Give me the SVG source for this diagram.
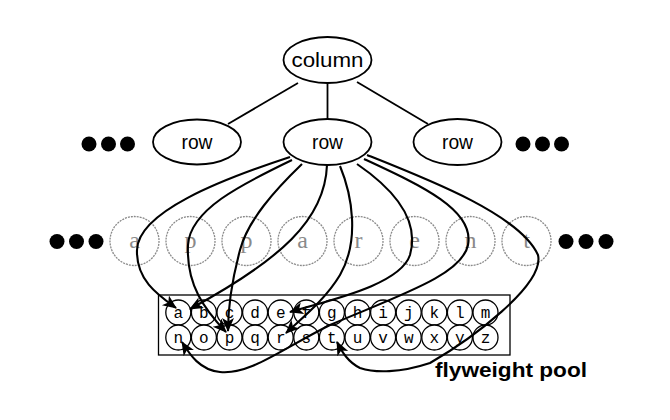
<svg xmlns="http://www.w3.org/2000/svg" width="670" height="420" viewBox="0 0 670 420">
<style>
.node{fill:#fff;stroke:#000;stroke-width:1.8}
.lbl{font-family:"Liberation Sans",Arial,sans-serif;font-size:20px;text-anchor:middle;fill:#000}
.dot{fill:#000}
.ghost{fill:none;stroke:#8a8a8a;stroke-width:1.3;stroke-dasharray:2 1}
.gl{font-family:"Liberation Serif","Times New Roman",serif;font-size:24px;text-anchor:middle;fill:#8a8a8a}
.pc{fill:#fff;stroke:#000;stroke-width:1.3}
.pl{font-family:"Liberation Mono","Courier New",monospace;font-size:16px;text-anchor:middle;fill:#000}
.edge{fill:none;stroke:#000;stroke-width:1.8}
.ref{fill:none;stroke:#000;stroke-width:2.1}
</style>
<defs>
<marker id="arr" markerUnits="userSpaceOnUse" markerWidth="16" markerHeight="14" refX="13" refY="6" orient="auto">
<path d="M0,0 L14,6 L0,12 L3.5,6 z" fill="#000"/>
</marker>
</defs>

<g id="ellipsis-left-top"><circle class="dot" cx="89" cy="144" r="7.5"/><circle class="dot" cx="108.5" cy="144" r="7.5"/><circle class="dot" cx="127.5" cy="144" r="7.5"/></g>
<g id="ellipsis-right-top"><circle class="dot" cx="523" cy="144" r="7.5"/><circle class="dot" cx="542.5" cy="144" r="7.5"/><circle class="dot" cx="561.5" cy="144" r="7.5"/></g>

<g id="tree-edges">
<line class="edge" x1="298" y1="83" x2="228" y2="124"/>
<line class="edge" x1="327.5" y1="83" x2="327.5" y2="119"/>
<line class="edge" x1="357" y1="82" x2="428" y2="124"/>
</g>

<g id="column"><ellipse class="node" cx="327.5" cy="60" rx="44" ry="23"/><text class="lbl" x="327.5" y="67" textLength="72" lengthAdjust="spacingAndGlyphs">column</text></g>
<g id="row-left"><ellipse class="node" cx="197" cy="142" rx="44" ry="22.5"/><text class="lbl" x="197" y="149" textLength="31" lengthAdjust="spacingAndGlyphs">row</text></g>
<g id="row-mid"><ellipse class="node" cx="327.5" cy="142" rx="44" ry="23"/><text class="lbl" x="327.5" y="149" textLength="31" lengthAdjust="spacingAndGlyphs">row</text></g>
<g id="row-right"><ellipse class="node" cx="457.5" cy="142" rx="44" ry="23"/><text class="lbl" x="457.5" y="149" textLength="31" lengthAdjust="spacingAndGlyphs">row</text></g>

<g id="ellipsis-left-mid"><circle class="dot" cx="57" cy="241.5" r="7.5"/><circle class="dot" cx="76.5" cy="241.5" r="7.5"/><circle class="dot" cx="96" cy="241.5" r="7.5"/></g>
<g id="ellipsis-right-mid"><circle class="dot" cx="566" cy="241.5" r="7.5"/><circle class="dot" cx="586" cy="241.5" r="7.5"/><circle class="dot" cx="606" cy="241.5" r="7.5"/></g>

<g id="word">
<g id="g-a1"><circle class="ghost" cx="134.5" cy="241" r="24.5"/><text class="gl" x="134.5" y="248">a</text></g>
<g id="g-p1"><circle class="ghost" cx="190.5" cy="241" r="24.5"/><text class="gl" x="190.5" y="248">p</text></g>
<g id="g-p2"><circle class="ghost" cx="246.5" cy="241" r="24.5"/><text class="gl" x="246.5" y="248">p</text></g>
<g id="g-a2"><circle class="ghost" cx="302.5" cy="241" r="24.5"/><text class="gl" x="302.5" y="248">a</text></g>
<g id="g-r"><circle class="ghost" cx="358.5" cy="241" r="24.5"/><text class="gl" x="358.5" y="248">r</text></g>
<g id="g-e"><circle class="ghost" cx="414.5" cy="241" r="24.5"/><text class="gl" x="414.5" y="248">e</text></g>
<g id="g-n"><circle class="ghost" cx="470.5" cy="241" r="24.5"/><text class="gl" x="470.5" y="248">n</text></g>
<g id="g-t"><circle class="ghost" cx="526.5" cy="241" r="24.5"/><text class="gl" x="526.5" y="248">t</text></g>
</g>

<g id="pool">
<rect x="158.5" y="295" width="351.5" height="60" fill="#fff" stroke="#000" stroke-width="1.3"/>
<g id="pool-row1">
<circle class="pc" cx="178.3" cy="312.5" r="12.5"/><text class="pl" x="178.3" y="317.5">a</text>
<circle class="pc" cx="203.9" cy="312.5" r="12.5"/><text class="pl" x="203.9" y="317.5">b</text>
<circle class="pc" cx="229.5" cy="312.5" r="12.5"/><text class="pl" x="229.5" y="317.5">c</text>
<circle class="pc" cx="255.1" cy="312.5" r="12.5"/><text class="pl" x="255.1" y="317.5">d</text>
<circle class="pc" cx="280.7" cy="312.5" r="12.5"/><text class="pl" x="280.7" y="317.5">e</text>
<circle class="pc" cx="306.3" cy="312.5" r="12.5"/><text class="pl" x="306.3" y="317.5">f</text>
<circle class="pc" cx="331.9" cy="312.5" r="12.5"/><text class="pl" x="331.9" y="317.5">g</text>
<circle class="pc" cx="357.5" cy="312.5" r="12.5"/><text class="pl" x="357.5" y="317.5">h</text>
<circle class="pc" cx="383.1" cy="312.5" r="12.5"/><text class="pl" x="383.1" y="317.5">i</text>
<circle class="pc" cx="408.7" cy="312.5" r="12.5"/><text class="pl" x="408.7" y="317.5">j</text>
<circle class="pc" cx="434.3" cy="312.5" r="12.5"/><text class="pl" x="434.3" y="317.5">k</text>
<circle class="pc" cx="459.9" cy="312.5" r="12.5"/><text class="pl" x="459.9" y="317.5">l</text>
<circle class="pc" cx="485.5" cy="312.5" r="12.5"/><text class="pl" x="485.5" y="317.5">m</text>
</g>
<g id="pool-row2">
<circle class="pc" cx="178.3" cy="337.5" r="12.5"/><text class="pl" x="178.3" y="342.5">n</text>
<circle class="pc" cx="203.9" cy="337.5" r="12.5"/><text class="pl" x="203.9" y="342.5">o</text>
<circle class="pc" cx="229.5" cy="337.5" r="12.5"/><text class="pl" x="229.5" y="342.5">p</text>
<circle class="pc" cx="255.1" cy="337.5" r="12.5"/><text class="pl" x="255.1" y="342.5">q</text>
<circle class="pc" cx="280.7" cy="337.5" r="12.5"/><text class="pl" x="280.7" y="342.5">r</text>
<circle class="pc" cx="306.3" cy="337.5" r="12.5"/><text class="pl" x="306.3" y="342.5">s</text>
<circle class="pc" cx="331.9" cy="337.5" r="12.5"/><text class="pl" x="331.9" y="342.5">t</text>
<circle class="pc" cx="357.5" cy="337.5" r="12.5"/><text class="pl" x="357.5" y="342.5">u</text>
<circle class="pc" cx="383.1" cy="337.5" r="12.5"/><text class="pl" x="383.1" y="342.5">v</text>
<circle class="pc" cx="408.7" cy="337.5" r="12.5"/><text class="pl" x="408.7" y="342.5">w</text>
<circle class="pc" cx="434.3" cy="337.5" r="12.5"/><text class="pl" x="434.3" y="342.5">x</text>
<circle class="pc" cx="459.9" cy="337.5" r="12.5"/><text class="pl" x="459.9" y="342.5">y</text>
<circle class="pc" cx="485.5" cy="337.5" r="12.5"/><text class="pl" x="485.5" y="342.5">z</text>
</g>
</g>

<g id="references">
<path class="ref" marker-end="url(#arr)" d="M290,157 C220,180 138,212 137,250 C136,280 158,295 176,308"/>
<path class="ref" marker-end="url(#arr)" d="M292,160 C240,185 190,210 188,245 C186,285 205,310 226,332"/>
<path class="ref" marker-end="url(#arr)" d="M302,164 C275,190 248,220 240,250 C232,280 228,305 228,331"/>
<path class="ref" marker-end="url(#arr)" d="M327,165 C325,220 280,260 190,309"/>
<path class="ref" marker-end="url(#arr)" d="M340,166 C352,195 360,240 340,275 C325,300 302,318 286,333"/>
<path class="ref" marker-end="url(#arr)" d="M357,164 C395,190 420,220 410,255 C400,285 330,300 290,312"/>
<path class="ref" marker-end="url(#arr)" d="M364,159 C420,185 475,210 468,245 C462,275 400,295 330,325 C280,350 250,375 220,372 C200,370 190,355 182,342"/>
<path class="ref" marker-end="url(#arr)" d="M367,155 C430,180 520,215 538,255 C545,285 470,340 430,363 C400,373 375,373 360,368 C348,362 342,352 337,342"/>
</g>

<text id="pool-label" x="435" y="377" textLength="152" lengthAdjust="spacingAndGlyphs" style="font-family:'Liberation Sans',Arial,sans-serif;font-size:20px;font-weight:bold;fill:#000">flyweight pool</text>
</svg>
